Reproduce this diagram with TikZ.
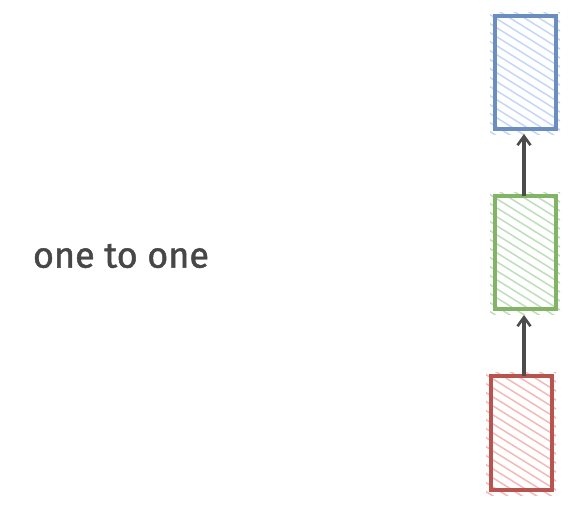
\documentclass[tikz,border=0pt]{standalone}
\usepackage{fontspec}
\setmainfont{Fira Sans}
\newfontfamily\lblfont{Fira Sans}[FakeBold=1.3]
\usetikzlibrary{arrows.meta}
\definecolor{bluehatch}{RGB}{196,214,248}
\definecolor{greenhatch}{RGB}{190,222,186}
\definecolor{redhatch}{RGB}{244,184,182}
\definecolor{bluestroke}{RGB}{108,142,191}
\definecolor{greenstroke}{RGB}{130,179,102}
\definecolor{redstroke}{RGB}{184,84,80}
\begin{document}
\begin{tikzpicture}[x=1pt,y=-1pt,
  box/.style={line width=3.2pt, inner sep=0pt},
  conn/.style={draw=black!70, line width=3.2pt, -{Straight Barb[length=9pt,width=13pt,line width=2.6pt]}},
  lbl/.style={text=black!72, font=\lblfont\fontsize{36}{40}\selectfont}]
\useasboundingbox (0,0) rectangle (573,506);
\newcommand{\hatchbox}[5]{%
  \begin{scope}
    \clip (#1-5,#2-4) rectangle (#3+4,#4+5);
    \foreach \k in {-200,-191,...,140} {
      \draw[#5, line width=1.5pt] (#1-6,#2+\k) -- (#3+6,#2+\k+0.62*#3-0.62*#1+7.4);
    }
  \end{scope}
}
\hatchbox{495}{16}{556}{129}{bluehatch}
\hatchbox{495}{196}{556}{309}{greenhatch}
\hatchbox{491}{376}{552}{490}{redhatch}
\node[box, draw=bluestroke, minimum width=61pt, minimum height=113pt] (blue) at (525.5,72.5) {};
\node[box, draw=greenstroke, minimum width=61pt, minimum height=113pt] (green) at (525.5,252.5) {};
\node[box, draw=redstroke, minimum width=61pt, minimum height=114pt] (red) at (521.5,433) {};
\coordinate (gt) at (524,196);
\coordinate (bb) at (524,134);
\coordinate (rt) at (524,376);
\coordinate (gb) at (524,315);
\draw[conn] (gt) -- (bb);
\draw[conn] (rt) -- (gb);
\node[lbl] (t) at (121,256) {one to one};
\end{tikzpicture}
\end{document}
